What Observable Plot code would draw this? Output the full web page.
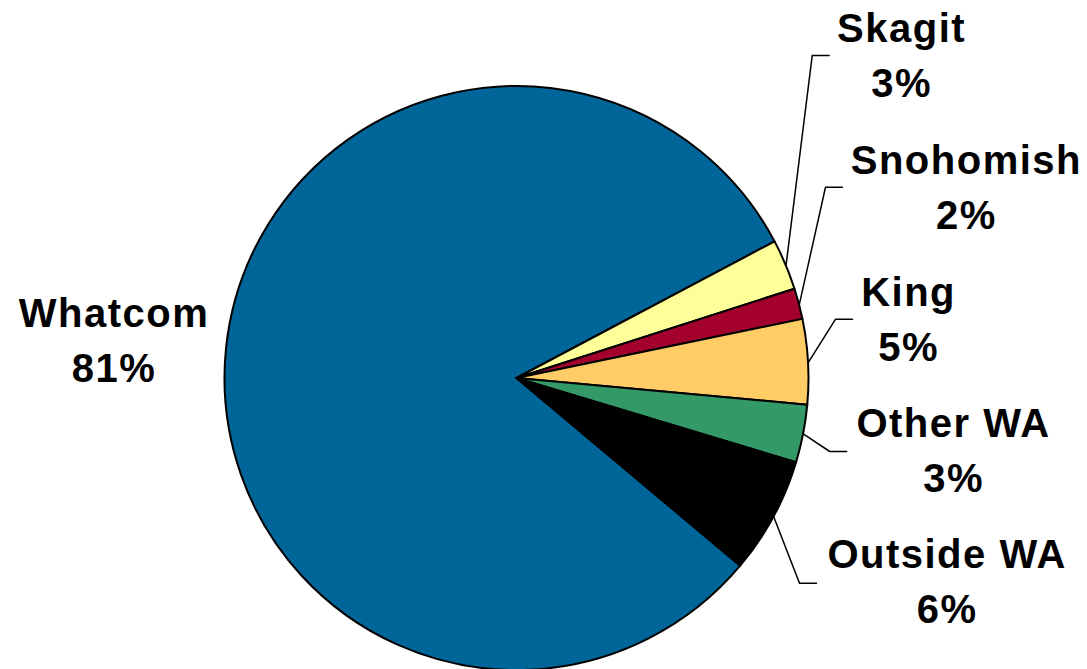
<!DOCTYPE html>
<html><head><meta charset="utf-8">
<script src="https://cdn.jsdelivr.net/npm/d3@7"></script>
<script src="https://cdn.jsdelivr.net/npm/@observablehq/plot@0.6"></script>
<style>html,body{margin:0;padding:0;background:#fff}</style>
</head><body><div id="chart"></div>
<script>
// ---- data ----
const categories = ["Whatcom", "Skagit", "Snohomish", "King", "Other WA", "Outside WA"];
const values = [81.1, 2.8, 1.7, 4.7, 3.2, 6.45];
const palette = ["#006699", "#FFFF99", "#A3002E", "#FFCC66", "#339966", "#000000"];

// ---- layout (radius units, pie centre = 0,0) ----
const startDeg = 130;                       // where the first slice begins (clockwise from 12 o'clock)
const labelAnchors = [[-1.380, 0.141], [1.317, 1.118], [1.539, 0.665], [1.341, 0.214], [1.495, -0.234], [1.473, -0.682]];
const leaderElbows = [null, [1.011, 1.106], [1.0565, 0.655], [1.091, 0.203], [1.071, -0.250], [0.9675, -0.701]];
const leaderTail = 0.058;

const W = 1087, H = 669, cxPx = 516.5, cyPx = 378, rPx = 292;

const total = d3.sum(values);
const rows = categories.map((c, i) => ({name: c, value: values[i], color: palette[i]}));
const arcs = d3.pie().value(d => d.value).sort(null)
  .startAngle(startDeg * Math.PI / 180)
  .endAngle(startDeg * Math.PI / 180 + 2 * Math.PI)(rows);

const labels = rows.map((d, i) => ({
  x: labelAnchors[i][0], y: labelAnchors[i][1],
  text: d.name + "\n" + Math.round(d.value / total * 100) + "%"
}));

const leaders = [];
arcs.forEach((a, i) => {
  const e = leaderElbows[i];
  if (!e) return;
  const m = (a.startAngle + a.endAngle) / 2;
  leaders.push({name: rows[i].name, x: Math.sin(m), y: Math.cos(m)});
  leaders.push({name: rows[i].name, x: e[0], y: e[1]});
  leaders.push({name: rows[i].name, x: e[0] + leaderTail, y: e[1]});
});

function pieMark(index, scales) {
  const cx = scales.x(0), cy = scales.y(0), r = scales.x(1) - scales.x(0);
  const arc = d3.arc().innerRadius(0).outerRadius(r);
  const g = d3.create("svg:g").attr("transform", `translate(${cx},${cy})`);
  g.selectAll("path").data(arcs).join("path")
    .attr("d", arc)
    .attr("fill", d => d.data.color)
    .attr("stroke", "#000")
    .attr("stroke-width", 2)
    .attr("stroke-linejoin", "round");
  return g.node();
}

const chart = Plot.plot({
  width: W, height: H,
  margin: 0,
  x: {domain: [-cxPx / rPx, (W - cxPx) / rPx], axis: null},
  y: {domain: [(cyPx - H) / rPx, cyPx / rPx], axis: null},
  style: {fontFamily: "'Liberation Sans', Arial, sans-serif", letterSpacing: "1.5px", background: "#fff"},
  marks: [
    pieMark,
    Plot.line(leaders, {x: "x", y: "y", z: "name", stroke: "#000", strokeWidth: 1.5, curve: "linear"}),
    Plot.text(labels, {x: "x", y: "y", text: "text", fontSize: 40, fontWeight: "bold", lineHeight: 1.375, fill: "#000", textAnchor: "middle"})
  ]
});
document.getElementById("chart").appendChild(chart);
</script>
</body></html>
